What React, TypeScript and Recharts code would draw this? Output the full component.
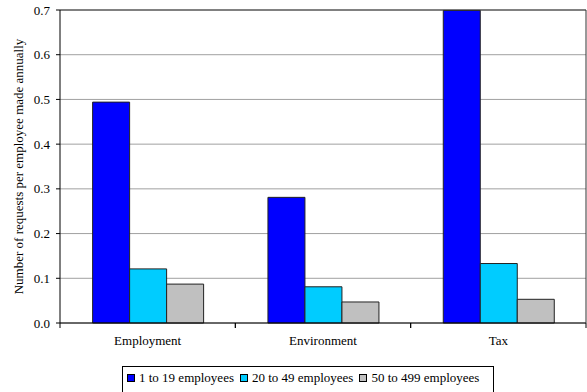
import { Bar, BarChart, CartesianGrid, ReferenceLine, XAxis, YAxis } from "recharts";

const categories = ["Employment", "Environment", "Tax"];
const oneTo19 = [0.494, 0.281, 0.699];
const twentyTo49 = [0.121, 0.081, 0.133];
const fiftyTo499 = [0.087, 0.047, 0.053];
const seriesNames = ["1 to 19 employees", "20 to 49 employees", "50 to 499 employees"];
const yTicks = [0, 0.1, 0.2, 0.3, 0.4, 0.5, 0.6, 0.7];

const colors = ["#0000ff", "#00ccff", "#c0c0c0"];
const keys = ["small", "medium", "large"];
const serif = "Liberation Serif, Tinos, DejaVu Serif, serif";
const font = { fontFamily: serif, fontSize: 13, fill: "#000" };

const data = categories.map((category, i) => ({
  category,
  small: oneTo19[i],
  medium: twentyTo49[i],
  large: fiftyTo499[i]
}));

function YLabel({ viewBox }: any) {
  const cy = viewBox.y + viewBox.height / 2;
  return (
    <text x={18} y={cy} transform={`rotate(-90 18 ${cy})`} textAnchor="middle" dominantBaseline="central" fontFamily={serif} fontSize={13} fill="#000">
      Number of requests per employee made annually
    </text>
  );
}

// category label plus Excel-style tick marks at the category boundaries
function CategoryTick({ x, y, payload }: any) {
  const half = payload.offset ?? 0;
  return (
    <g>
      <line x1={x - half} x2={x - half} y1={y} y2={y + 5} stroke="#000" />
      <line x1={x + half} x2={x + half} y1={y} y2={y + 5} stroke="#000" />
      <text x={x} y={y + 22} textAnchor="middle" fontFamily={serif} fontSize={13} fill="#000">
        {payload.value}
      </text>
    </g>
  );
}

export default function App() {
  return (
    <div style={{ position: "absolute", left: 0, top: 0, width: 587, height: 392, overflow: "hidden", background: "#fff", fontFamily: serif }}>
      <BarChart
        width={587}
        height={392}
        data={data}
        margin={{ top: 10, right: 0, left: 0, bottom: 39 }}
        barCategoryGap="18.6%"
        barGap={0}
      >
        <CartesianGrid vertical={false} stroke="#a0a0a0" />
        <XAxis
          dataKey="category"
          stroke="#000"
          tickLine={false}
          tickSize={0}
          tickMargin={0}
          height={30}
          tick={<CategoryTick />}
          interval={0}
        />
        <YAxis
          domain={[0, 0.7]}
          ticks={yTicks}
          tickFormatter={(v) => Number(v).toFixed(1)}
          width={60}
          tickSize={4}
          tickMargin={6}
          stroke="#000"
          tick={font}
          label={<YLabel />}
        />
        <YAxis yAxisId="right" orientation="right" domain={[0, 0.7]} width={1} tick={false} tickLine={false} stroke="#333" />
        <ReferenceLine y={0.7} stroke="#333" />
        {keys.map((k, i) => (
          <Bar key={k} dataKey={k} name={seriesNames[i]} fill={colors[i]} stroke="#222" strokeWidth={1} isAnimationActive={false} />
        ))}
      </BarChart>
      <div
        style={{
          position: "absolute",
          left: 122,
          top: 366,
          width: 366,
          height: 30,
          paddingLeft: 4,
          paddingTop: 3,
          border: "1px solid #000",
          display: "flex",
          alignItems: "flex-start",
          gap: 6,
          fontFamily: serif,
          fontSize: 13,
          lineHeight: "15px"
        }}
      >
        {seriesNames.map((name, i) => (
          <span key={name} style={{ display: "flex", alignItems: "center", whiteSpace: "nowrap" }}>
            <span style={{ display: "inline-block", width: 6, height: 6, background: colors[i], border: "1px solid #000", marginRight: 4 }} />
            {name}
          </span>
        ))}
      </div>
    </div>
  );
}
